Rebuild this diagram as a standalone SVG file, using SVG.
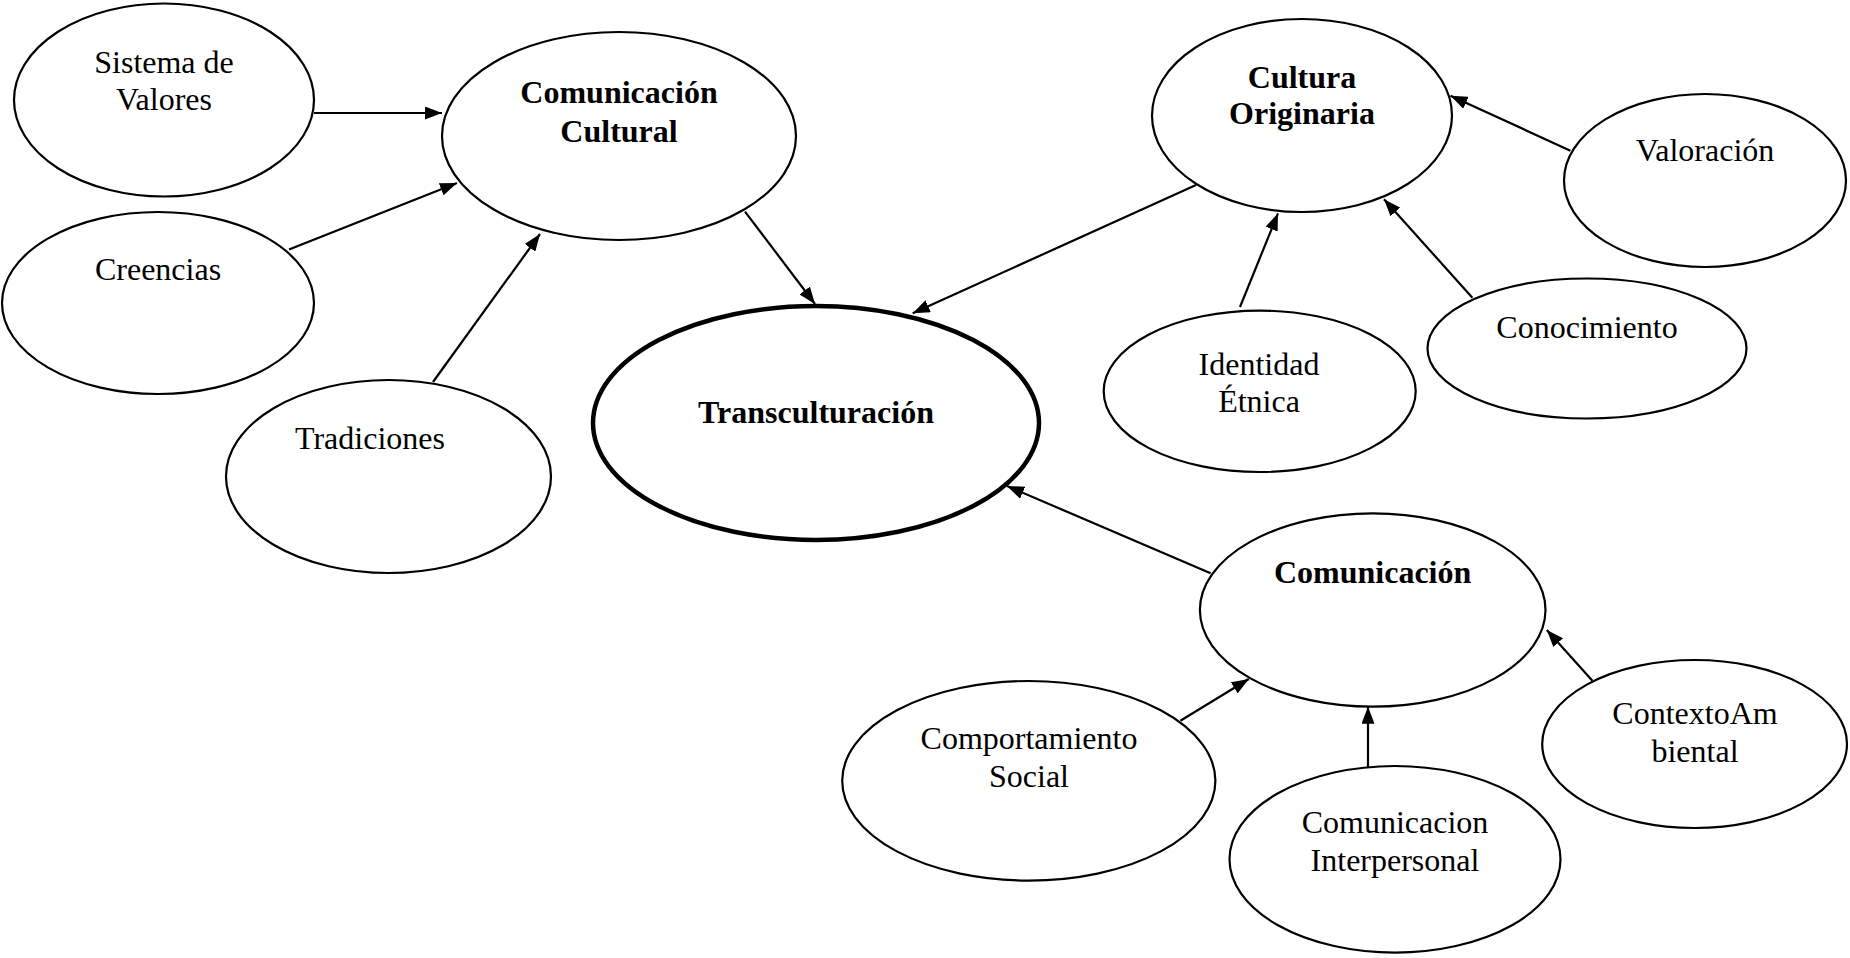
<svg xmlns="http://www.w3.org/2000/svg" width="1850" height="958" viewBox="0 0 1850 958">
<defs>
<style>
.n{fill:#fff;stroke:#000;stroke-width:2.2}
.main{fill:#fff;stroke:#000;stroke-width:4.5}
.t{font-family:"Liberation Serif","Times New Roman",serif;font-size:32px;fill:#000;text-anchor:middle}
.b{font-weight:bold}
.c line{stroke:#000;stroke-width:2.2;marker-end:url(#ah)}
</style>
<marker id="ah" viewBox="0 0 17 13" refX="17" refY="6.5" markerWidth="17" markerHeight="13" markerUnits="userSpaceOnUse" orient="auto">
<path d="M0,0 L17,6.5 L0,13 z" fill="#000"/>
</marker>
</defs>
<rect width="1850" height="958" fill="#fff"/>
<g id="n-sistema"><ellipse class="n" cx="164" cy="100" rx="150" ry="96.5"/><text class="t" x="164" y="73">Sistema de</text><text class="t" x="164" y="110">Valores</text></g>
<g id="n-comcultural"><ellipse class="n" cx="619" cy="136" rx="177" ry="104"/><text class="t b" x="619" y="103">Comunicación</text><text class="t b" x="619" y="142">Cultural</text></g>
<g id="n-creencias"><ellipse class="n" cx="158" cy="303" rx="156" ry="91"/><text class="t" x="158" y="280">Creencias</text></g>
<g id="n-tradiciones"><ellipse class="n" cx="388.5" cy="476.5" rx="162.5" ry="96.5"/><text class="t" x="370" y="449">Tradiciones</text></g>
<g id="n-trans"><ellipse class="main" cx="816" cy="423" rx="223" ry="117"/><text class="t b" x="816" y="423">Transculturación</text></g>
<g id="n-cultorig"><ellipse class="n" cx="1302" cy="115.5" rx="150" ry="96.5"/><text class="t b" x="1302" y="88">Cultura</text><text class="t b" x="1302" y="124">Originaria</text></g>
<g id="n-valoracion"><ellipse class="n" cx="1705" cy="180.5" rx="141" ry="86.5"/><text class="t" x="1705" y="161">Valoración</text></g>
<g id="n-identidad"><ellipse class="n" cx="1259.7" cy="391.3" rx="156" ry="80.7"/><text class="t" x="1259" y="375">Identidad</text><text class="t" x="1259" y="412">Étnica</text></g>
<g id="n-conocimiento"><ellipse class="n" cx="1587" cy="348.5" rx="159.5" ry="70"/><text class="t" x="1587" y="338">Conocimiento</text></g>
<g id="n-comunicacion"><ellipse class="n" cx="1372.7" cy="610" rx="172.8" ry="96.7"/><text class="t b" x="1372.6" y="583">Comunicación</text></g>
<g id="n-comportamiento"><ellipse class="n" cx="1028.8" cy="780.8" rx="186.6" ry="99.8"/><text class="t" x="1029" y="749">Comportamiento</text><text class="t" x="1029" y="787">Social</text></g>
<g id="n-interpersonal"><ellipse class="n" cx="1395" cy="859.3" rx="165.5" ry="93.3"/><text class="t" x="1395" y="833">Comunicacion</text><text class="t" x="1395" y="871">Interpersonal</text></g>
<g id="n-contexto"><ellipse class="n" cx="1694.6" cy="744" rx="152.4" ry="84"/><text class="t" x="1695" y="724">ContextoAm</text><text class="t" x="1695" y="762">biental</text></g>
<g id="connectors" class="c">
<line x1="314" y1="113" x2="442" y2="113"/>
<line x1="289" y1="249.5" x2="457" y2="183"/>
<line x1="433" y1="382" x2="540" y2="234"/>
<line x1="745" y1="211.6" x2="815" y2="304"/>
<line x1="1196" y1="185" x2="912.7" y2="313.3"/>
<line x1="1240" y1="307" x2="1278" y2="213.3"/>
<line x1="1472.4" y1="297.7" x2="1384" y2="199.3"/>
<line x1="1570.4" y1="150.7" x2="1450.5" y2="95.7"/>
<line x1="1210.6" y1="573.3" x2="1007" y2="486"/>
<line x1="1180.4" y1="720.7" x2="1248.8" y2="679"/>
<line x1="1368" y1="767.3" x2="1368" y2="706.7"/>
<line x1="1592.4" y1="680.7" x2="1546.8" y2="630"/>
</g>
</svg>
